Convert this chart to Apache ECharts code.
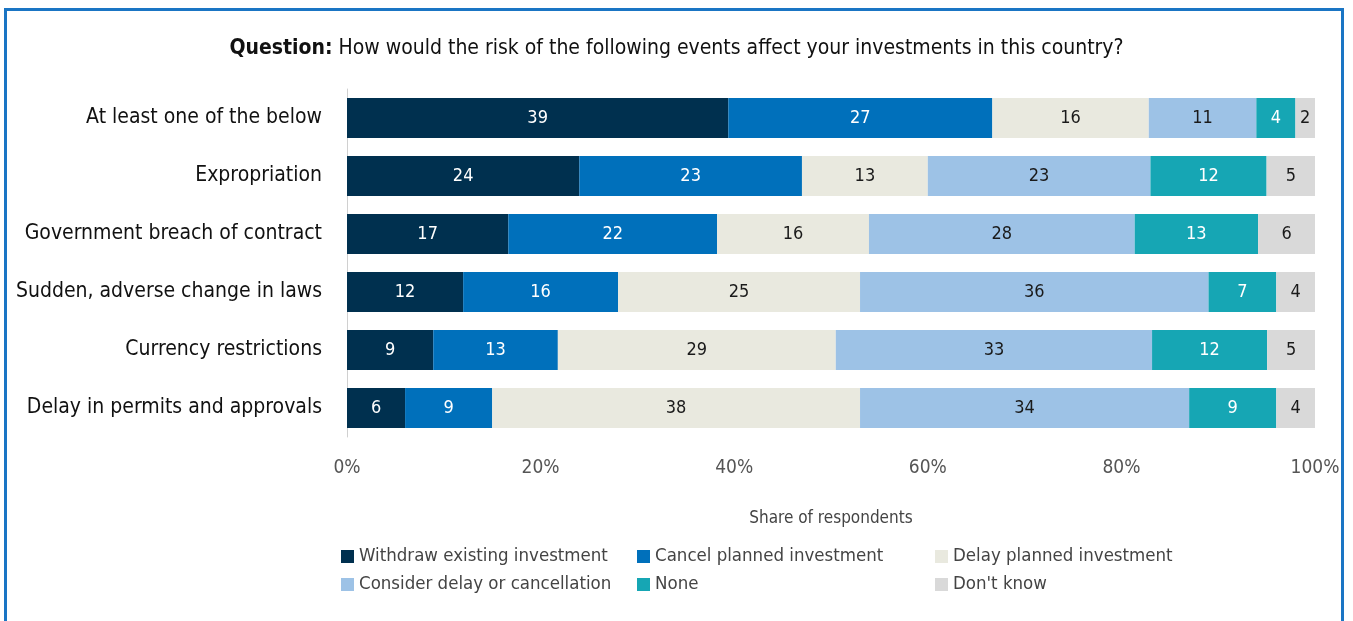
<!DOCTYPE html>
<html><head><meta charset="utf-8">
<script src="https://cdn.jsdelivr.net/npm/echarts@6/dist/echarts.min.js"></script>
<style>
html,body{margin:0;padding:0;background:#fff;overflow:hidden}
#frame{position:absolute;left:4px;top:8px;width:1340px;height:640px;border:3px solid #1a75c4;box-sizing:border-box}
#c{position:absolute;left:0;top:0;width:1353px;height:621px}
</style></head>
<body>
<div id="frame"></div>
<div id="c"></div>
<script>
const categories = ["At least one of the below","Expropriation","Government breach of contract","Sudden, adverse change in laws","Currency restrictions","Delay in permits and approvals"];
const seriesNames = ["Withdraw existing investment","Cancel planned investment","Delay planned investment","Consider delay or cancellation","None","Don't know"];
const withdraw = [39,24,17,12,9,6];
const cancel   = [27,23,22,16,13,9];
const delay    = [16,13,16,25,29,38];
const consider = [11,23,28,36,33,34];
const none     = [4,12,13,7,12,9];
const dontKnow = [2,5,6,4,5,4];
const xTicks = [0,20,40,60,80,100];
const colors = ["#00304f","#0070bb","#e9e9df","#9dc2e6","#16a6b4","#d9d9d9"];
const labelColors = ["#ffffff","#ffffff","#1a1a1a","#1a1a1a","#ffffff","#1a1a1a"];

const raw = [withdraw,cancel,delay,consider,none,dontKnow];
const totals = categories.map((_,i)=>raw.reduce((s,a)=>s+a[i],0));
const FONT = "'Liberation Sans Narrow','DejaVu Sans Condensed','Roboto Condensed',sans-serif";

const legendCols = [[0,3],[1,4],[2,5]];
const legendLeft = [336,632,930];

const chart = echarts.init(document.getElementById('c'));
chart.setOption({
  animation:false,
  textStyle:{fontFamily:FONT},
  title:{
    text:'{b|Question:} How would the risk of the following events affect your investments in this country?',
    left:'center', top:33,
    textStyle:{fontFamily:FONT,fontSize:21,fontWeight:'normal',color:'#111',
      rich:{b:{fontFamily:FONT,fontSize:21,fontWeight:'bold',color:'#111'}}}
  },
  legend:legendCols.map((col,k)=>({
    left:legendLeft[k], top:542, orient:'vertical',
    itemWidth:13, itemHeight:13, itemGap:9,
    icon:'rect',
    textStyle:{fontFamily:FONT,fontSize:18.5,color:'#444'},
    data:col.map(i=>seriesNames[i])
  })),
  grid:{left:347,right:38,top:89,bottom:184,containLabel:false},
  xAxis:{
    type:'value',min:0,max:100,interval:20,
    name:'Share of respondents',nameLocation:'middle',nameGap:73,
    nameTextStyle:{fontFamily:FONT,fontSize:17,color:'#444'},
    axisLabel:{formatter:v=>v+'%',fontFamily:FONT,fontSize:19,color:'#555',margin:22},
    axisLine:{show:false},axisTick:{show:false},splitLine:{show:false}
  },
  yAxis:{
    type:'category',inverse:true,data:categories,
    axisLine:{show:true,lineStyle:{color:'#d0d0d0',width:1}},
    axisTick:{show:false},
    axisLabel:{fontFamily:FONT,fontSize:21,color:'#111',margin:25}
  },
  series:raw.map((arr,si)=>({
    name:seriesNames[si],type:'bar',stack:'all',barWidth:40,
    itemStyle:{color:colors[si]},
    label:{show:true,position:'inside',fontFamily:FONT,fontSize:18,color:labelColors[si],
      formatter:p=>String(arr[p.dataIndex])},
    data:arr.map((v,i)=>v/totals[i]*100)
  }))
});
</script>
</body></html>
